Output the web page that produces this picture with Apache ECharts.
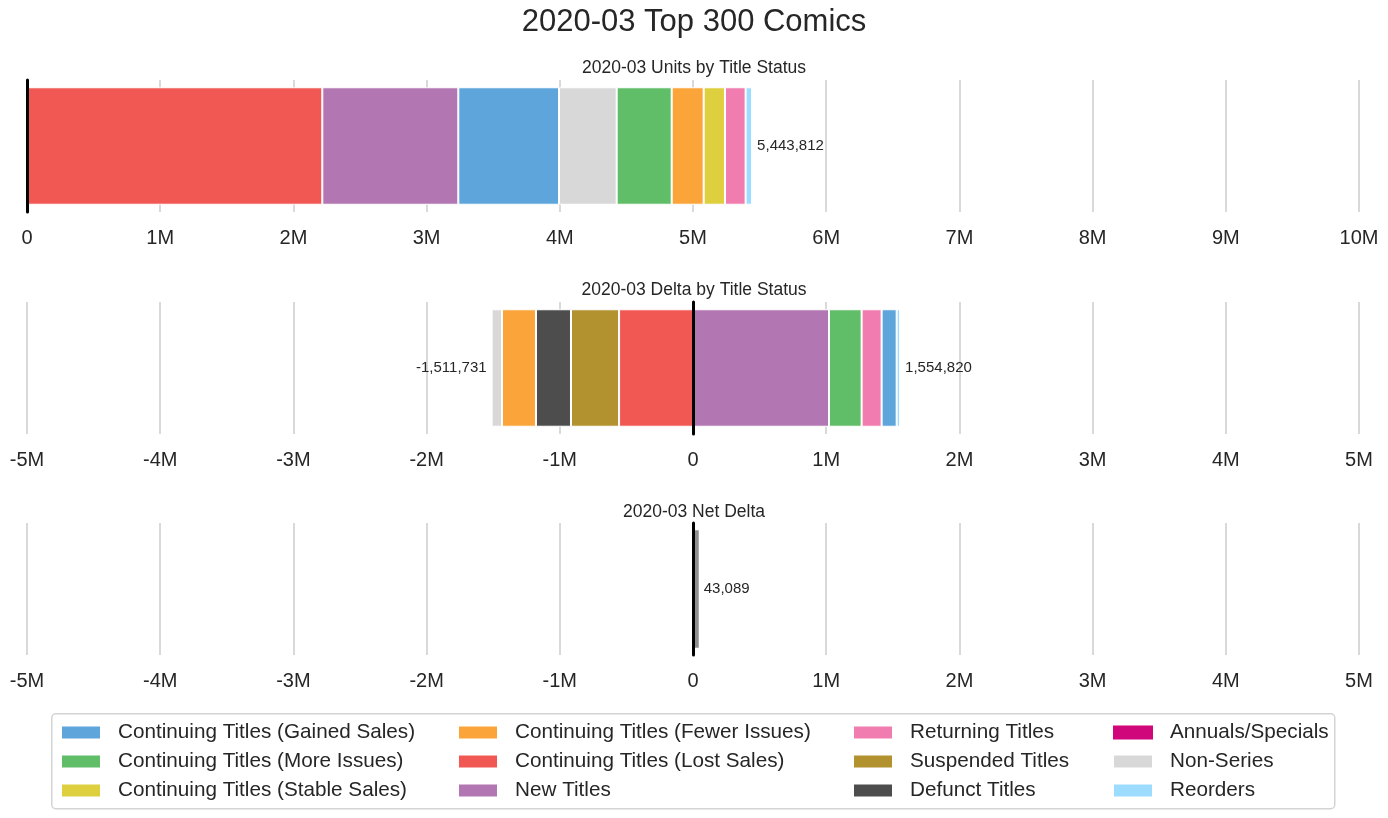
<!DOCTYPE html>
<html>
<head>
<meta charset="utf-8">
<script src="https://cdn.jsdelivr.net/npm/echarts@6/dist/echarts.min.js"></script>
<style>html,body{margin:0;padding:0;background:#fff;}#c{width:1388px;height:818px;}</style>
</head>
<body>
<div id="c"></div>
<script>
// ---- data ----
const legendColumns = [
  ['Continuing Titles (Gained Sales)', 'Continuing Titles (More Issues)', 'Continuing Titles (Stable Sales)'],
  ['Continuing Titles (Fewer Issues)', 'Continuing Titles (Lost Sales)', 'New Titles'],
  ['Returning Titles', 'Suspended Titles', 'Defunct Titles'],
  ['Annuals/Specials', 'Non-Series', 'Reorders']
];
const unitsNames = ['Continuing Titles (Lost Sales)', 'New Titles', 'Continuing Titles (Gained Sales)', 'Non-Series',
  'Continuing Titles (More Issues)', 'Continuing Titles (Fewer Issues)', 'Continuing Titles (Stable Sales)', 'Returning Titles', 'Reorders'];
const unitsValues = [2217000, 1021000, 756000, 433000, 413000, 240000, 160000, 155000, 48812];
const deltaPosNames = ['New Titles', 'Continuing Titles (More Issues)', 'Returning Titles', 'Continuing Titles (Gained Sales)', 'Reorders'];
const deltaPosValues = [1021000, 245000, 150000, 113000, 25820];
const deltaNegNames = ['Continuing Titles (Lost Sales)', 'Suspended Titles', 'Defunct Titles', 'Continuing Titles (Fewer Issues)', 'Non-Series'];
const deltaNegValues = [-555000, -361000, -263000, -255000, -77731];
const netDelta = 43089;
const chartTitles = ['2020-03 Top 300 Comics', '2020-03 Units by Title Status', '2020-03 Delta by Title Status', '2020-03 Net Delta'];

// ---- styles ----
const colors = {
  'Continuing Titles (Gained Sales)': '#5da5da',
  'Continuing Titles (More Issues)': '#60bd68',
  'Continuing Titles (Stable Sales)': '#decf3f',
  'Continuing Titles (Fewer Issues)': '#faa43a',
  'Continuing Titles (Lost Sales)': '#f15854',
  'New Titles': '#b276b2',
  'Returning Titles': '#f17cb0',
  'Suspended Titles': '#b2912f',
  'Defunct Titles': '#4d4d4d',
  'Annuals/Specials': '#d0077a',
  'Non-Series': '#d8d8d8',
  'Reorders': '#9cdcff'
};
const FONT = '"Liberation Sans", Arial, sans-serif';
const TXT = '#262626';
const sum = a => a.reduce((s, v) => s + v, 0);
const fmt = v => Math.round(v).toLocaleString('en-US');

const gridTops = [80, 302, 523];
const grids = gridTops.map(t => ({ left: 27, right: 29, top: t, height: 132 }));

function xAxisFor(i, min, max) {
  return {
    type: 'value', gridIndex: i, min: min, max: max, interval: 1000000,
    axisLine: { show: false }, axisTick: { show: false },
    splitLine: { show: true, lineStyle: { color: '#cccccc', width: 1.5 } },
    axisLabel: {
      fontSize: 20, color: TXT, fontFamily: FONT, margin: 16,
      formatter: v => v === 0 ? '0' : (v / 1e6) + 'M'
    }
  };
}
function yAxisFor(i) {
  return {
    type: 'category', gridIndex: i, data: ['a'], z: 10,
    axisLine: { show: true, onZero: true, lineStyle: { color: '#000', width: 3 } },
    axisTick: { show: false }, axisLabel: { show: false }, splitLine: { show: false }
  };
}

const series = [];
function addStack(names, values, gi, stack, labelPos, total) {
  names.forEach((n, k) => {
    const last = k === names.length - 1;
    series.push({
      type: 'bar', name: n, xAxisIndex: gi, yAxisIndex: gi, stack: stack,
      barWidth: '89%', data: [values[k]],
      itemStyle: { color: colors[n], borderColor: '#fff', borderWidth: 1 },
      label: last ? {
        show: true, position: labelPos, distance: 5, fontSize: 15, color: TXT, fontFamily: FONT,
        formatter: () => fmt(total)
      } : { show: false },
      emphasis: { disabled: true }
    });
  });
}
addStack(unitsNames, unitsValues, 0, 'u', 'right', sum(unitsValues));
series.push({ type: 'bar', name: 'Annuals/Specials', xAxisIndex: 0, yAxisIndex: 0, stack: 'u', data: [null],
  itemStyle: { color: colors['Annuals/Specials'] } });
addStack(deltaPosNames, deltaPosValues, 1, 'd', 'right', sum(deltaPosValues));
addStack(deltaNegNames, deltaNegValues, 1, 'd', 'left', sum(deltaNegValues));
series.push({
  type: 'bar', name: 'Net Delta', xAxisIndex: 2, yAxisIndex: 2, barWidth: '89%', data: [netDelta],
  itemStyle: { color: '#8e8e8e' },
  label: { show: true, position: 'right', distance: 5, fontSize: 15, color: TXT, fontFamily: FONT, formatter: () => fmt(netDelta) },
  emphasis: { disabled: true }
});

const legendLefts = [60, 457, 852, 1112];
const legends = legendColumns.map((col, i) => ({
  orient: 'vertical', left: legendLefts[i], top: 722, padding: 0,
  itemWidth: 40, itemHeight: 14, itemGap: 8, icon: 'rect', selectedMode: false,
  data: col,
  textStyle: { fontSize: 20.7, lineHeight: 21, color: TXT, fontFamily: FONT, padding: [0, 0, 0, 12] }
}));

const option = {
  backgroundColor: '#fff',
  animation: false,
  title: [
    { text: chartTitles[0], left: 'center', top: 2, textStyle: { fontSize: 31, fontWeight: 'normal', color: TXT, fontFamily: FONT } },
    { text: chartTitles[1], left: 'center', top: 54, textStyle: { fontSize: 17.5, fontWeight: 'normal', color: TXT, fontFamily: FONT } },
    { text: chartTitles[2], left: 'center', top: 276, textStyle: { fontSize: 17.5, fontWeight: 'normal', color: TXT, fontFamily: FONT } },
    { text: chartTitles[3], left: 'center', top: 498, textStyle: { fontSize: 17.5, fontWeight: 'normal', color: TXT, fontFamily: FONT } }
  ],
  grid: grids,
  xAxis: [xAxisFor(0, 0, 10000000), xAxisFor(1, -5000000, 5000000), xAxisFor(2, -5000000, 5000000)],
  yAxis: [yAxisFor(0), yAxisFor(1), yAxisFor(2)],
  legend: legends,
  graphic: [{
    type: 'rect', left: 51, top: 713, z: -1,
    shape: { width: 1283, height: 95, r: 4 },
    style: { fill: '#fff', stroke: '#d4d4d4', lineWidth: 1.5 }
  }],
  series: series
};
const chart = echarts.init(document.getElementById('c'), null, { renderer: 'canvas' });
chart.setOption(option);
</script>
</body>
</html>
